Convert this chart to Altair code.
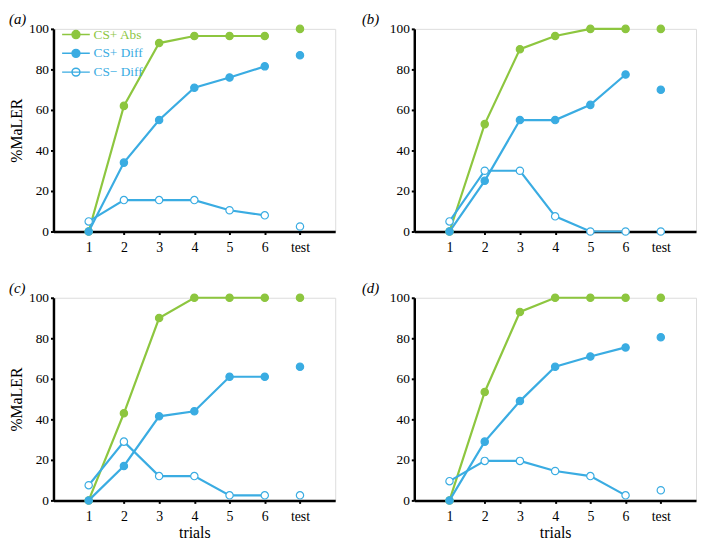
import altair as alt
import pandas as pd

trials = ["1", "2", "3", "4", "5", "6", "test"]
series_names = ["CS+ Abs", "CS+ Diff", "CS\u2212 Diff"]
panel_labels = ["(a)", "(b)", "(c)", "(d)"]
y_ticks = [0, 20, 40, 60, 80, 100]

a_abs = [0, 62, 93, 96.5, 96.5, 96.5, 100]
a_diff = [0, 34, 55, 71, 76, 81.5, 87]
a_neg = [5, 15.5, 15.5, 15.5, 10.5, 8, 2.5]

b_abs = [0, 53, 90, 96.5, 100, 100, 100]
b_diff = [0, 25, 55, 55, 62.5, 77.5, 70]
b_neg = [5, 30, 30, 7.5, 0, 0, 0]

c_abs = [0, 43, 90, 100, 100, 100, 100]
c_diff = [0, 17, 41.5, 44, 61, 61, 66]
c_neg = [7.5, 29, 12, 12, 2.5, 2.5, 2.5]

d_abs = [0, 53.5, 93, 100, 100, 100, 100]
d_diff = [0, 29, 49, 66, 71, 75.5, 80.5]
d_neg = [9.5, 19.5, 19.5, 14.5, 12, 2.5, 5]

GREEN = "#8dc63f"
BLUE = "#3aace2"
FONT = "'Liberation Serif', 'Times New Roman', Times, 'DejaVu Serif', serif"

W, H = 285, 205


def make_df(abs_v, diff_v, neg_v):
    rows = []
    for name, vals in zip(series_names, [abs_v, diff_v, neg_v]):
        for t, v in zip(trials, vals):
            rows.append({"series": name, "trial": t, "value": v})
    return pd.DataFrame(rows)


stroke_scale = alt.Scale(domain=series_names, range=[GREEN, BLUE, BLUE])
fill_scale = alt.Scale(domain=series_names, range=[GREEN, BLUE, "white"])

legend_path = "M-2.8,0H2.8M-0.8,0A0.8,0.8,0,1,1,0.8,0A0.8,0.8,0,1,1,-0.8,0Z"


def make_legend():
    return alt.Legend(
        title=None,
        orient="none",
        legendX=16,
        legendY=-1,
        direction="vertical",
        padding=0,
        symbolType=legend_path,
        symbolSize=100,
        symbolStrokeWidth=1.5,
        symbolFillColor=alt.ExprRef(
            "datum.value == '" + series_names[2] + "' ? 'white' : (datum.value == '"
            + series_names[0] + "' ? '" + GREEN + "' : '" + BLUE + "')"
        ),
        labelColor=alt.ExprRef(
            "datum.value == '" + series_names[0] + "' ? '" + GREEN + "' : '" + BLUE + "'"
        ),
        labelFont=FONT,
        labelFontSize=13.5,
        labelOffset=11,
        rowPadding=4,
    )


def panel(df, label, ytitle, xtitle, with_legend, title_dx):
    xaxis_kw = dict(
        labelFont=FONT, labelFontSize=14, labelColor="black", labelAngle=0,
        domainColor="black", domainWidth=2.5, tickColor="black", tickWidth=2,
        tickSize=3, labelPadding=6, grid=False,
    )
    if xtitle:
        xaxis_kw.update(title=xtitle, titleFont=FONT, titleFontSize=16,
                        titleFontWeight="normal", titleColor="black", titlePadding=2)
    else:
        xaxis_kw.update(title=None)
    yaxis_kw = dict(
        values=y_ticks, labelFont=FONT, labelFontSize=13.5, labelColor="black",
        domainColor="black", domainWidth=2.5, tickColor="black", tickWidth=2,
        tickSize=3, labelPadding=2, grid=False,
    )
    if ytitle:
        yaxis_kw.update(title=ytitle, titleFont=FONT, titleFontSize=16,
                        titleFontWeight="normal", titleColor="black", titlePadding=4)
    else:
        yaxis_kw.update(title=None)

    x = alt.X("trial:O", scale=alt.Scale(type="point", domain=trials, padding=1),
              axis=alt.Axis(**xaxis_kw))
    y = alt.Y("value:Q", scale=alt.Scale(domain=[0, 100], nice=False),
              axis=alt.Axis(**yaxis_kw))
    leg = make_legend() if with_legend else None

    base = alt.Chart(df)
    lines = base.transform_filter(alt.datum.trial != trials[-1]).mark_line(
        strokeWidth=2.2
    ).encode(
        x=x, y=y,
        stroke=alt.Stroke("series:N", scale=stroke_scale, legend=leg),
        detail="series:N",
    )
    pts = base.mark_point(shape="circle", filled=True, size=55, opacity=1,
                          strokeWidth=1.2).encode(
        x=x, y=y,
        fill=alt.Fill("series:N", scale=fill_scale, legend=None),
        stroke=alt.Stroke("series:N", scale=stroke_scale, legend=leg),
    )
    return alt.layer(lines, pts).properties(
        width=W, height=H,
        title=alt.TitleParams(
            text=label, anchor="start", frame="group", dx=title_dx, offset=-5,
            font=FONT, fontSize=15, fontStyle="italic", fontWeight="normal",
            color="black",
        ),
    )


pa = panel(make_df(a_abs, a_diff, a_neg), panel_labels[0], "%MaLER", None, True, -45)
pb = panel(make_df(b_abs, b_diff, b_neg), panel_labels[1], None, None, False, -53)
pc = panel(make_df(c_abs, c_diff, c_neg), panel_labels[2], "%MaLER", "trials", False, -45)
pd_ = panel(make_df(d_abs, d_diff, d_neg), panel_labels[3], None, "trials", False, -53)

chart = alt.concat(pa, pb, pc, pd_, columns=2, bounds="flush",
                   spacing=alt.RowColnumber(row=67, column=80)).resolve_scale(
    stroke="independent", fill="independent"
).configure_view(stroke=None).configure(padding=0, background="white")

chart.save("out.html", embed_options={"renderer": "svg", "actions": False})
